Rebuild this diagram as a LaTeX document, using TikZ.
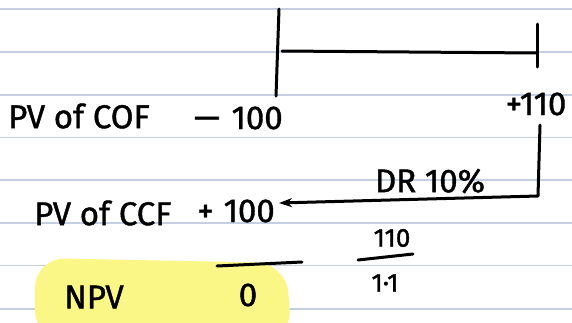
\documentclass[tikz,border=0pt]{standalone}
\usepackage{fontspec}
\setmainfont{Fira Sans}
\newfontfamily\inkfont{Fira Sans}[FakeBold=1.2]
\usetikzlibrary{arrows.meta}
\definecolor{rulecol}{RGB}{196,208,226}
\definecolor{hlcol}{RGB}{251,247,135}
\begin{document}
\begin{tikzpicture}[x=1pt,y=-1pt,
  ink/.style={line width=3pt, line cap=round, line join=round, black},
  rulestyle/.style={line width=1.2pt, rulecol},
  lbl/.style={inner sep=0pt, font=\inkfont\fontsize{33}{33}\selectfont},
  small/.style={inner sep=0pt, font=\inkfont\fontsize{26}{26}\selectfont}]
\useasboundingbox (0,0) rectangle (572,322);
\fill[white] (0,0) rectangle (572,322);
% ruled paper
\foreach \y in {9,52,95,137.5,180,223,265.5,309}
  \draw[rulestyle] (0,\y) -- (572,\y);
% highlight
\fill[hlcol, rounded corners=30pt] (35,258) -- (286,263) -- (292,340) -- (35,340) -- cycle;
% labels
\node[lbl, anchor=west] (cof) at (8,116) {PV of COF};
\node[lbl] (m100) at (237,118) {\scalebox{1.9}[1]{−}\hspace{9pt}100};
\node[lbl] (p110) at (536,104) {+110};
\node[lbl, anchor=west] (ccf) at (34,213) {PV of CCF};
\node[lbl] (pv100) at (236,211) {+\hspace{10pt}100};
\node[lbl] (dr) at (430,181) {DR 10\%};
\node[lbl] (npv) at (94,297) {NPV};
\node[lbl] (zero) at (248,295) {0};
\node[small] (num) at (392,238) {110};
\node[small] (den) at (385,283) {1·1};
% time line
\coordinate (t0top) at (279,9);
\coordinate (t0bot) at (276,96);
\coordinate (t0mid) at (282,51);
\coordinate (t1mid) at (537,53);
\coordinate (t1top) at (537,24);
\coordinate (t1bot) at (537,67);
\draw[ink] (t0top) -- (t0bot);
\draw[ink] (t0mid) -- (t1mid);
\draw[ink] (t1top) -- (t1bot);
% discounting arrow
\coordinate (dtop) at (540,125);
\coordinate (dcorner) at (538,196);
\draw[ink, -{Stealth[length=13pt,width=9pt]}] (dtop) -- (dcorner) -- ([xshift=4pt]pv100.east |- 0,203);
% sum line and fraction bar
\coordinate (s1) at (217,266);
\coordinate (s2) at (302,262);
\draw[ink] (s1) -- (s2);
\coordinate (f1) at (358,260);
\coordinate (f2) at (413,254);
\draw[ink] (f1) -- (f2);
\end{tikzpicture}
\end{document}
